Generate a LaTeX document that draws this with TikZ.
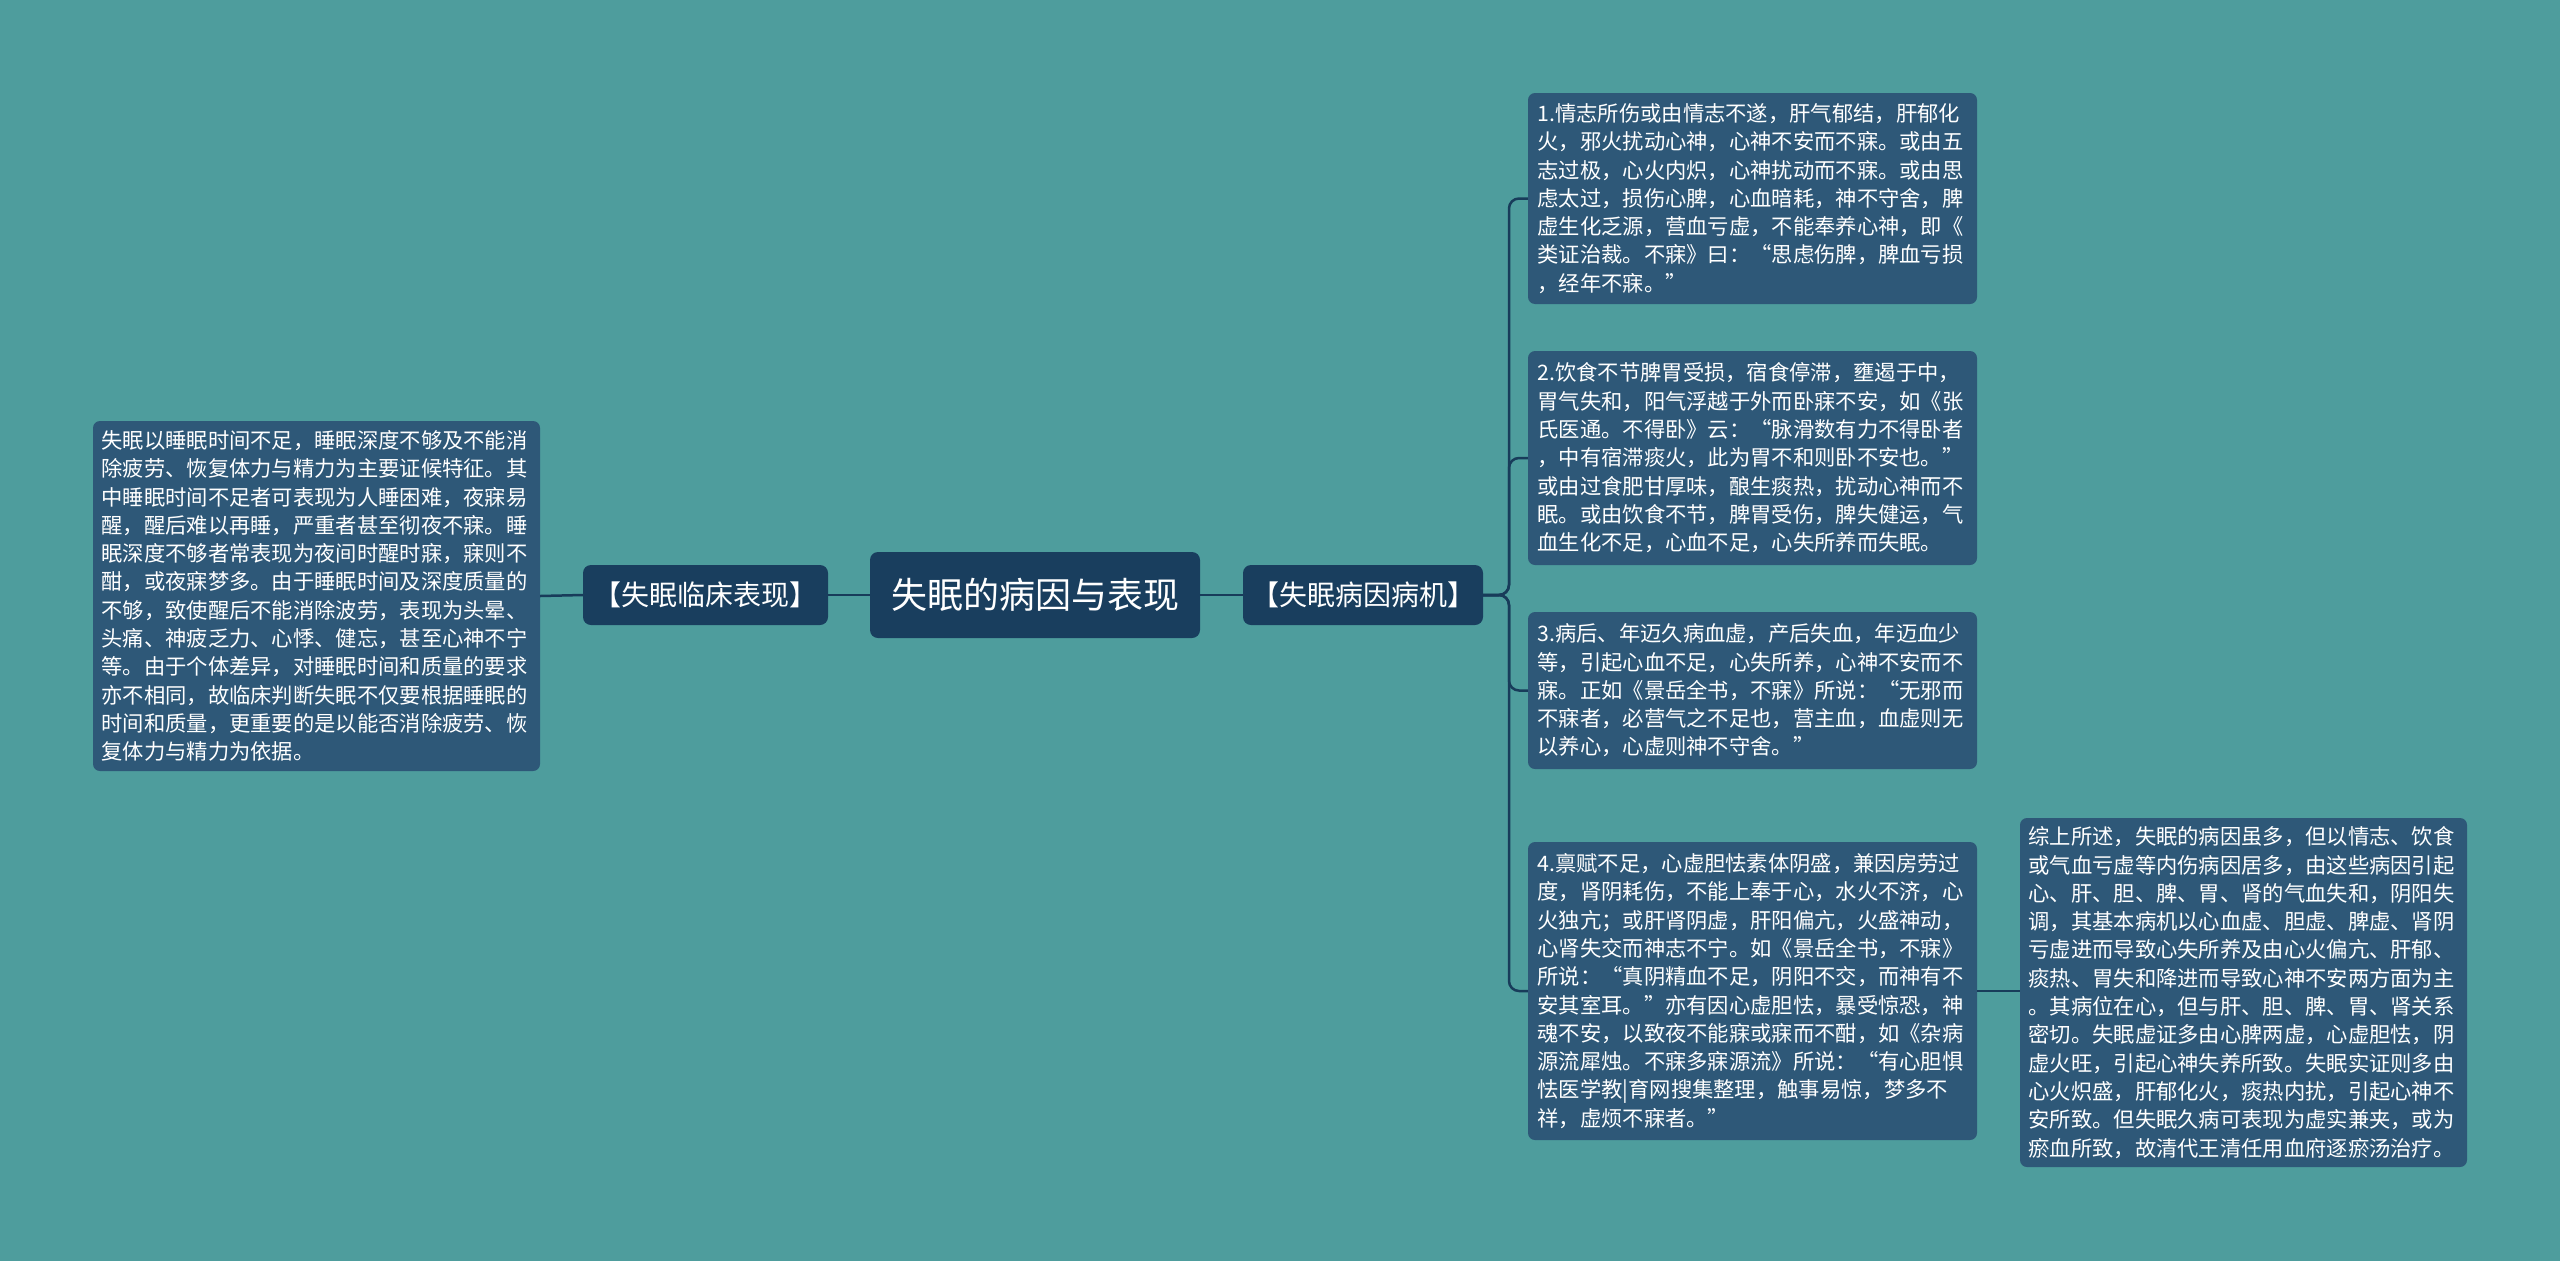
\documentclass[tikz,border=0pt]{standalone}
\usepackage{fontspec}
\setmainfont{Noto Sans CJK SC}
\definecolor{bg}{RGB}{78,157,157}
\definecolor{boxc}{RGB}{46,88,120}
\definecolor{topc}{RGB}{25,62,94}
\definecolor{linec}{RGB}{24,60,90}
\begin{document}
\begin{tikzpicture}[x=1pt,y=-1pt,
  txt/.style={fill=boxc, rounded corners=7pt, text=white, align=left, inner sep=0pt,
    font=\fontsize{21.3}{28.3}\selectfont, text width=430pt},
  topnode/.style={fill=topc, rounded corners=8pt, text=white, align=center, inner sep=0pt},
  conn/.style={draw=linec, line width=2.5pt}]
\fill[bg] (0,0) rectangle (2560,1261);
\useasboundingbox (0,0) rectangle (2560,1261);

\node[topnode, minimum width=330pt, minimum height=86pt, font=\fontsize{36}{40}\selectfont] (c) at (1035,595) {失眠的病因与表现};
\node[topnode, minimum width=245pt, minimum height=60pt, font=\fontsize{28}{32}\selectfont] (ll) at (705.5,595) {【失眠临床表现】};
\node[topnode, minimum width=240pt, minimum height=60pt, font=\fontsize{28}{32}\selectfont] (rl) at (1363,595) {【失眠病因病机】};

\node[txt, minimum width=447pt, minimum height=350pt] (L) at (316.5,596) {失眠以睡眠时间不足，睡眠深度不够及不能消\\
除疲劳、恢复体力与精力为主要证候特征。其\\
中睡眠时间不足者可表现为人睡困难，夜寐易\\
醒，醒后难以再睡，严重者甚至彻夜不寐。睡\\
眠深度不够者常表现为夜间时醒时寐，寐则不\\
酣，或夜寐梦多。由于睡眠时间及深度质量的\\
不够，致使醒后不能消除波劳，表现为头晕、\\
头痛、神疲乏力、心悸、健忘，甚至心神不宁\\
等。由于个体差异，对睡眠时间和质量的要求\\
亦不相同，故临床判断失眠不仅要根据睡眠的\\
时间和质量，更重要的是以能否消除疲劳、恢\\
复体力与精力为依据。};

\node[txt, minimum width=449pt, minimum height=211pt] (b1) at (1752.5,198.5) {1.情志所伤或由情志不遂，肝气郁结，肝郁化\\
火，邪火扰动心神，心神不安而不寐。或由五\\
志过极，心火内炽，心神扰动而不寐。或由思\\
虑太过，损伤心脾，心血暗耗，神不守舍，脾\\
虚生化乏源，营血亏虚，不能奉养心神，即《\\
类证治裁。不寐》曰：“思虑伤脾，脾血亏损\\
，经年不寐。”};

\node[txt, minimum width=449pt, minimum height=214pt] (b2) at (1752.5,458) {2.饮食不节脾胃受损，宿食停滞，壅遏于中，\\
胃气失和，阳气浮越于外而卧寐不安，如《张\\
氏医通。不得卧》云：“脉滑数有力不得卧者\\
，中有宿滞痰火，此为胃不和则卧不安也。”\\
或由过食肥甘厚味，酿生痰热，扰动心神而不\\
眠。或由饮食不节，脾胃受伤，脾失健运，气\\
血生化不足，心血不足，心失所养而失眠。};

\node[txt, minimum width=449pt, minimum height=157pt] (b3) at (1752.5,690.5) {3.病后、年迈久病血虚，产后失血，年迈血少\\
等，引起心血不足，心失所养，心神不安而不\\
寐。正如《景岳全书，不寐》所说：“无邪而\\
不寐者，必营气之不足也，营主血，血虚则无\\
以养心，心虚则神不守舍。”};

\node[txt, minimum width=449pt, minimum height=298pt] (b4) at (1752.5,991) {4.禀赋不足，心虚胆怯素体阴盛，兼因房劳过\\
度，肾阴耗伤，不能上奉于心，水火不济，心\\
火独亢；或肝肾阴虚，肝阳偏亢，火盛神动，\\
心肾失交而神志不宁。如《景岳全书，不寐》\\
所说：“真阴精血不足，阴阳不交，而神有不\\
安其室耳。”亦有因心虚胆怯，暴受惊恐，神\\
魂不安，以致夜不能寐或寐而不酣，如《杂病\\
源流犀烛。不寐多寐源流》所说：“有心胆惧\\
怯医学教|育网搜集整理，触事易惊，梦多不\\
祥，虚烦不寐者。”};

\node[txt, minimum width=447pt, minimum height=349pt] (b5) at (2243.5,992.5) {综上所述，失眠的病因虽多，但以情志、饮食\\
或气血亏虚等内伤病因居多，由这些病因引起\\
心、肝、胆、脾、胃、肾的气血失和，阴阳失\\
调，其基本病机以心血虚、胆虚、脾虚、肾阴\\
亏虚进而导致心失所养及由心火偏亢、肝郁、\\
痰热、胃失和降进而导致心神不安两方面为主\\
。其病位在心，但与肝、胆、脾、胃、肾关系\\
密切。失眠虚证多由心脾两虚，心虚胆怯，阴\\
虚火旺，引起心神失养所致。失眠实证则多由\\
心火炽盛，肝郁化火，痰热内扰，引起心神不\\
安所致。但失眠久病可表现为虚实兼夹，或为\\
瘀血所致，故清代王清任用血府逐瘀汤治疗。};

\coordinate (br) at (1509,595);
\draw[conn] (c.west) -- (ll.east);
\draw[conn] (ll.west) -- (L.east);
\draw[conn] (c.east) -- (rl.west);
\draw[conn, rounded corners=10pt] (rl.east) -- (br) |- (b1.west);
\draw[conn, rounded corners=10pt] (rl.east) -- (br) |- (b2.west);
\draw[conn, rounded corners=10pt] (rl.east) -- (br) |- (b3.west);
\draw[conn, rounded corners=10pt] (rl.east) -- (br) |- (b4.west);
\draw[conn] (b4.east) -- (b4.east -| b5.west);
\end{tikzpicture}
\end{document}
